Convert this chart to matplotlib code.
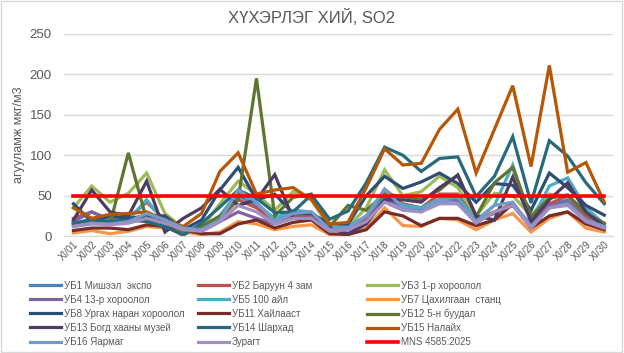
import matplotlib.pyplot as plt

plt.rcParams['font.family'] = ['Liberation Sans', 'DejaVu Sans']

# өдрүүд
days = ['XI/%02d' % d for d in range(1, 31)]

ub1 = [15, 20, 18, 18, 25, 18, 10, 8, 22, 50, 38, 20, 28, 28, 10, 10, 22, 50, 35, 32, 42, 42, 18, 30, 38, 15, 38, 45, 22, 12]
ub2 = [22, 30, 20, 22, 42, 20, 8, 6, 22, 45, 35, 18, 25, 26, 8, 8, 22, 58, 40, 35, 52, 52, 20, 30, 40, 12, 40, 50, 25, 15]
ub3 = [35, 62, 42, 53, 78, 28, 10, 10, 40, 68, 52, 32, 55, 45, 10, 12, 35, 82, 50, 55, 74, 60, 25, 53, 50, 25, 52, 50, 30, 15]
ub4 = [18, 30, 20, 20, 25, 18, 8, 6, 18, 30, 22, 15, 22, 22, 8, 8, 18, 45, 38, 35, 45, 45, 20, 28, 38, 12, 38, 42, 20, 10]
ub5 = [15, 22, 18, 20, 45, 17, 10, 8, 25, 55, 40, 22, 32, 30, 10, 12, 25, 55, 38, 35, 46, 48, 20, 38, 88, 18, 62, 72, 35, 15]
ub7 = [4, 7, 3, 6, 12, 10, 5, 2, 5, 18, 15, 8, 12, 14, 2, 2, 10, 35, 13, 12, 22, 20, 8, 20, 28, 5, 22, 30, 10, 5]
ub8 = [40, 18, 25, 22, 25, 25, 8, 20, 57, 85, 45, 52, 28, 28, 15, 15, 50, 74, 59, 67, 78, 65, 42, 65, 63, 32, 78, 60, 38, 26]
ub11 = [7, 10, 10, 8, 14, 12, 8, 3, 3, 15, 20, 10, 17, 20, 3, 2, 8, 30, 25, 13, 22, 22, 13, 20, 40, 10, 25, 30, 15, 8]
ub12 = [14, 18, 15, 103, 20, 17, 5, 12, 25, 45, 195, 25, 48, 52, 12, 38, 32, 52, 49, 45, 57, 76, 24, 66, 85, 24, 47, 51, 28, 16]
ub13 = [20, 57, 30, 25, 68, 5, 22, 35, 58, 38, 45, 76, 22, 22, 10, 3, 15, 45, 45, 42, 60, 75, 25, 20, 73, 18, 45, 66, 30, 12]
ub14 = [16, 20, 18, 20, 18, 12, 1, 16, 36, 57, 47, 29, 30, 51, 21, 31, 66, 110, 100, 80, 96, 98, 49, 74, 123, 41, 118, 99, 66, 40]
ub15 = [35, 22, 27, 28, 30, 20, 12, 28, 80, 103, 52, 57, 60, 45, 15, 17, 60, 108, 88, 90, 132, 157, 78, 132, 186, 86, 211, 79, 91, 42]
ub16 = [12, 15, 15, 18, 28, 20, 10, 8, 20, 57, 42, 18, 28, 30, 8, 10, 25, 58, 35, 30, 45, 40, 18, 38, 42, 12, 35, 40, 20, 12]
zuragt = [12, 16, 14, 16, 22, 16, 8, 6, 18, 38, 30, 15, 22, 22, 6, 8, 18, 42, 32, 30, 40, 40, 16, 30, 38, 10, 35, 38, 18, 10]
mns = [50] * 30

names = ['УБ1 Мишээл  экспо', 'УБ2 Баруун 4 зам', 'УБ3 1-р хороолол',
         'УБ4 13-р хороолол', 'УБ5 100 айл', 'УБ7 Цахилгаан  станц',
         'УБ8 Ургах наран хороолол', 'УБ11 Хайлааст', 'УБ12 5-н буудал',
         'УБ13 Богд хааны музей', 'УБ14 Шархад', 'УБ15 Налайх',
         'УБ16 Яармаг', 'Зурагт', 'MNS 4585:2025']
series = [ub1, ub2, ub3, ub4, ub5, ub7, ub8, ub11, ub12, ub13, ub14, ub15, ub16, zuragt, mns]
colors = ['#4F81BD', '#C0504D', '#9BBB59', '#8064A2', '#4BACC6', '#F79646',
          '#2C4D75', '#772C2A', '#5F7530', '#4D3B62', '#276A7C', '#B65708',
          '#729ACA', '#A08FC0', '#FF0000']

fig = plt.figure(figsize=(6.24, 3.53), dpi=100)
fig.patches.append(plt.Rectangle((0.002, 0.003), 0.995, 0.993, transform=fig.transFigure,
                                 fill=False, edgecolor='#D9D9D9', lw=1))
ax = fig.add_axes([0.103, 0.331, 0.880, 0.573])

handles = []
for vals, name, c in zip(series, names, colors):
    lw = 2.6 if name.startswith('MNS') else 2.3
    h, = ax.plot(days, vals, color=c, lw=lw, label=name, solid_joinstyle='miter')
    handles.append(h)

ax.set_xlim(-0.5, 29.5)
ax.set_ylim(0, 250)
ax.set_yticks(range(0, 251, 50))
ax.grid(axis='y', color='#D9D9D9', lw=1)
ax.set_axisbelow(True)
for s in ['top', 'right', 'left']:
    ax.spines[s].set_visible(False)
ax.spines['bottom'].set_color('#D9D9D9')
ax.tick_params(axis='both', length=0, colors='#595959')
ax.tick_params(axis='y', labelsize=9.5, pad=9)
ax.tick_params(axis='x', labelsize=7, pad=2)
plt.setp(ax.get_xticklabels(), rotation=45, ha='right', rotation_mode='anchor')

ax.set_ylabel('агууламж мкг/м3', color='#595959', fontsize=9, labelpad=3)
fig.text(0.5, 0.935, 'ХҮХЭРЛЭГ ХИЙ, SO2', ha='center', color='#595959', fontsize=12)

# Excel шиг мөрөөр: багана тус бүрт тусдаа legend
col_x = [0.048, 0.317, 0.588]
for k, x in enumerate(col_x):
    idx = list(range(k, 15, 3))
    leg = fig.legend([handles[i] for i in idx], [names[i] for i in idx],
                     loc='upper left', bbox_to_anchor=(x, 0.205), frameon=False,
                     borderpad=0, borderaxespad=0,
                     fontsize=7, handlelength=3.2, handletextpad=0.3,
                     labelspacing=0.42, labelcolor='#595959')

plt.savefig('out.png', dpi=100)
